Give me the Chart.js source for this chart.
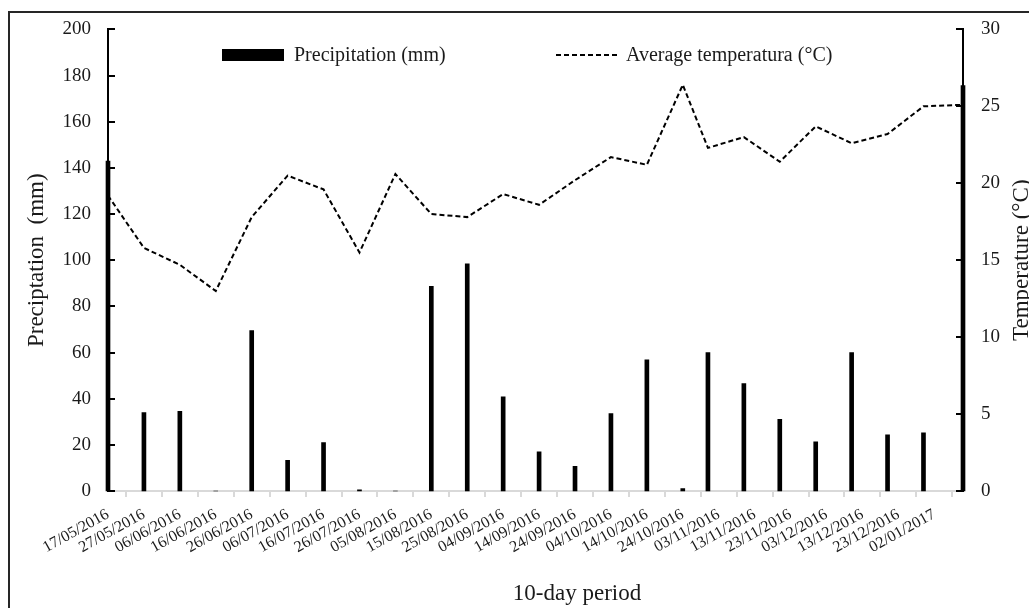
<!DOCTYPE html>
<html>
<head>
<meta charset="utf-8">
<script src="https://cdn.jsdelivr.net/npm/chart.js@4.4.0/dist/chart.umd.min.js"></script>
<style>
  html, body { margin: 0; padding: 0; background: #fff; overflow: hidden; }
  #wrap { position: relative; width: 1029px; height: 608px; overflow: hidden; }
  #frame { position: absolute; left: 8px; top: 11px; width: 1100px; height: 700px; border: 2px solid #262626; pointer-events: none; }
</style>
</head>
<body>
<div id="wrap">
  <canvas id="chart" width="1029" height="608"></canvas>
  <div id="frame"></div>
</div>
<script>
// 10-day periods (dates of the bars / line points)
const periods = [
  '17/05/2016', '27/05/2016', '06/06/2016', '16/06/2016', '26/06/2016',
  '06/07/2016', '16/07/2016', '26/07/2016', '05/08/2016', '15/08/2016',
  '25/08/2016', '04/09/2016', '14/09/2016', '24/09/2016', '04/10/2016',
  '14/10/2016', '24/10/2016', '31/10/2016', '10/11/2016', '20/11/2016',
  '30/11/2016', '10/12/2016', '20/12/2016', '30/12/2016', '10/01/2017'
];
const precipitation = [
  143, 34, 34.5, 0, 69.5, 13.3, 21, 0.5, 0, 88.7,
  98.4, 40.8, 17, 10.7, 33.5, 56.8, 1, 60, 46.5, 31,
  21.3, 60, 24.3, 25.2, 175.7
];
const temperature = [
  19.2, 15.8, 14.7, 13.0, 17.8, 20.5, 19.6, 15.5, 20.6, 18.0,
  17.8, 19.3, 18.6, 20.2, 21.7, 21.2, 26.4, 22.3, 23.0, 21.4,
  23.7, 22.6, 23.2, 25.0, 25.1
];
// x-axis tick labels
const tickLabels = [
  '17/05/2016', '27/05/2016', '06/06/2016', '16/06/2016', '26/06/2016',
  '06/07/2016', '16/07/2016', '26/07/2016', '05/08/2016', '15/08/2016',
  '25/08/2016', '04/09/2016', '14/09/2016', '24/09/2016', '04/10/2016',
  '14/10/2016', '24/10/2016', '03/11/2016', '13/11/2016', '23/11/2016',
  '03/12/2016', '13/12/2016', '23/12/2016', '02/01/2017'
];

const serif = 'Liberation Serif';
const ink = '#1a1a1a';

// days since the first period
function dayOf(s) {
  const [d, m, y] = s.split('/').map(Number);
  const [d0, m0, y0] = periods[0].split('/').map(Number);
  return (Date.UTC(y, m - 1, d) - Date.UTC(y0, m0 - 1, d0)) / 86400000;
}

const extras = {
  id: 'extras',
  afterDraw(chart) {
    const { ctx, chartArea: a, scales } = chart;
    ctx.save();
    // inward tick marks on both value axes
    ctx.strokeStyle = '#000';
    ctx.lineWidth = 2;
    scales.y.ticks.forEach(t => {
      const py = Math.round(scales.y.getPixelForValue(t.value));
      ctx.beginPath(); ctx.moveTo(a.left, py); ctx.lineTo(a.left + 7, py); ctx.stroke();
    });
    scales.y1.ticks.forEach(t => {
      const py = Math.round(scales.y1.getPixelForValue(t.value));
      ctx.beginPath(); ctx.moveTo(a.right - 7, py); ctx.lineTo(a.right, py); ctx.stroke();
    });

    // legend
    ctx.font = '20px "' + serif + '"';
    ctx.textBaseline = 'middle';
    ctx.textAlign = 'left';
    const ly = 55;
    let x = a.left + 114;
    ctx.fillStyle = '#000';
    ctx.fillRect(x, ly - 6, 62, 12);
    ctx.fillStyle = ink;
    ctx.fillText(chart.data.datasets[0].label, x + 72, ly + 1);
    x = a.left + 448;
    ctx.setLineDash([5, 3]);
    ctx.beginPath(); ctx.moveTo(x, ly); ctx.lineTo(x + 62, ly); ctx.stroke();
    ctx.setLineDash([]);
    ctx.fillText(chart.data.datasets[1].label, x + 70, ly + 1);

    // axis titles
    ctx.font = '23px "' + serif + '"';
    ctx.textAlign = 'center';
    ctx.fillText('10-day period', 577, 594);
    ctx.translate(1022, (a.top + a.bottom) / 2);
    ctx.rotate(-Math.PI / 2);
    ctx.fillText('Temperature (°C)', 0, 0);
    ctx.restore();
  }
};

new Chart(document.getElementById('chart'), {
  type: 'bar',
  data: {
    datasets: [{
      type: 'bar',
      label: 'Precipitation (mm)',
      data: periods.map((p, i) => ({ x: dayOf(p), y: precipitation[i] })),
      backgroundColor: '#000',
      barThickness: 4,
      yAxisID: 'y',
      order: 2,
      clip: 4
    }, {
      type: 'line',
      label: 'Average temperatura (°C)',
      data: periods.map((p, i) => ({ x: dayOf(p), y: temperature[i] })),
      borderColor: '#000',
      borderWidth: 2,
      borderDash: [5, 3],
      pointRadius: 0,
      tension: 0,
      fill: false,
      yAxisID: 'y1',
      order: 1
    }]
  },
  options: {
    responsive: false,
    animation: false,
    layout: { padding: { top: 25, left: 0, right: 0, bottom: 0 } },
    plugins: { legend: { display: false }, tooltip: { enabled: false } },
    scales: {
      x: {
        type: 'linear',
        position: 'bottom',
        offset: false,
        min: 0,
        max: dayOf(periods[periods.length - 1]),
        afterBuildTicks: s => { s.ticks = tickLabels.map(t => ({ value: dayOf(t) })); },
        afterFit: s => { s.height = 117; },
        grid: { drawOnChartArea: false, drawTicks: true, tickLength: 6, color: '#d9d9d9', lineWidth: 2 },
        border: { color: '#d9d9d9', width: 2 },
        ticks: {
          autoSkip: false, minRotation: 29, maxRotation: 29, padding: 8,
          color: ink, font: { family: serif, size: 16 },
          callback: (v, i) => tickLabels[i]
        }
      },
      y: {
        position: 'left',
        min: 0, max: 200,
        afterFit: s => { s.width = 108; },
        grid: { display: false, drawTicks: false },
        border: { color: '#000', width: 2 },
        ticks: { stepSize: 20, padding: 17, color: ink, font: { family: serif, size: 19 } },
        title: {
          display: true, text: 'Preciptation  (mm)', color: ink,
          font: { family: serif, size: 23 }, padding: { top: 23, bottom: 0 }
        }
      },
      y1: {
        position: 'right',
        min: 0, max: 30,
        afterFit: s => { s.width = 66; },
        grid: { display: false, drawTicks: false },
        border: { color: '#000', width: 2 },
        ticks: { stepSize: 5, padding: 18, color: ink, font: { family: serif, size: 19 } }
      }
    }
  },
  plugins: [extras]
});
</script>
</body>
</html>
